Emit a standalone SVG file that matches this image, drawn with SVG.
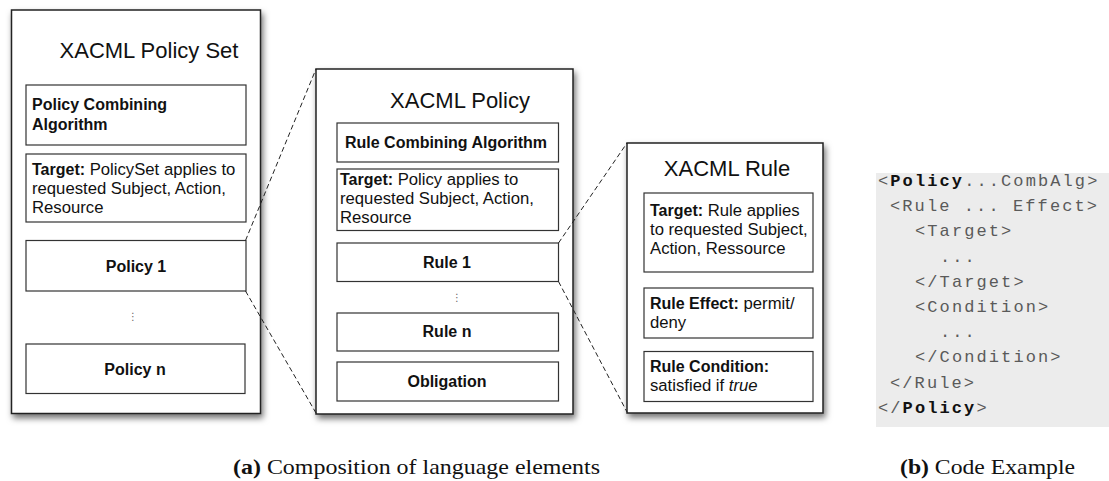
<svg xmlns="http://www.w3.org/2000/svg" width="1109" height="481" viewBox="0 0 1109 481">
<defs>
<filter id="sh" x="-10%" y="-10%" width="125%" height="125%">
<feDropShadow dx="2" dy="4" stdDeviation="3" flood-color="#000" flood-opacity="0.55"/>
</filter>
<style>
.outer{fill:#fff;stroke:#222;stroke-width:1.5;filter:url(#sh)}
.inner{fill:#fff;stroke:#333;stroke-width:1.2}
.title{font-family:"Liberation Sans",Arial,sans-serif;font-size:22px;fill:#111}
.t{font-family:"Liberation Sans",Arial,sans-serif;font-size:16.7px;fill:#111}
.b{font-weight:bold;font-size:16px}
.c{text-anchor:middle}
.dots{font-family:"DejaVu Sans",sans-serif;font-size:10px;fill:#666;text-anchor:middle}
.dash{fill:none;stroke:#222;stroke-width:1;stroke-dasharray:5,3}
.code{font-family:"Liberation Mono","Courier New",monospace;font-size:17px;fill:#5a5a5a;letter-spacing:2.1px}
.cb{font-weight:bold;fill:#111}
.cap{font-family:"Liberation Serif","Times New Roman",serif;font-size:21px;fill:#111}
</style>
</defs>
<rect width="1109" height="481" fill="#fff"/>

<g id="policyset">
<rect class="outer" x="11.5" y="10" width="249" height="403.5"/>
<text class="title" x="149" y="58" text-anchor="middle">XACML Policy Set</text>
<rect class="inner" x="26" y="85" width="220" height="60"/>
<text class="t b" x="32" y="110">Policy Combining</text>
<text class="t b" x="32" y="130">Algorithm</text>
<rect class="inner" x="26" y="154" width="220" height="68"/>
<text class="t" x="32" y="175"><tspan class="b">Target:</tspan> PolicySet applies to</text>
<text class="t" x="32" y="194">requested Subject, Action,</text>
<text class="t" x="32" y="213">Resource</text>
<rect id="policy1" class="inner" x="26" y="240.5" width="220" height="50.5"/>
<text class="t b c" x="136" y="272">Policy 1</text>
<text class="dots" x="133" y="320">⋮</text>
<rect class="inner" x="26" y="344" width="219" height="49.5"/>
<text class="t b c" x="135" y="375">Policy n</text>
</g>

<g id="policy">
<rect class="outer" x="316" y="69" width="257" height="345"/>
<text class="title" x="460" y="108" text-anchor="middle">XACML Policy</text>
<rect class="inner" x="337" y="123" width="221.5" height="39"/>
<text class="t b c" x="446" y="148">Rule Combining Algorithm</text>
<rect class="inner" x="337" y="169" width="221.5" height="61.5"/>
<text class="t" x="340" y="185"><tspan class="b">Target:</tspan> Policy applies to</text>
<text class="t" x="340" y="204">requested Subject, Action,</text>
<text class="t" x="340" y="223">Resource</text>
<rect id="rule1" class="inner" x="337" y="243" width="221.5" height="38.5"/>
<text class="t b c" x="447" y="268">Rule 1</text>
<text class="dots" x="457" y="301">⋮</text>
<rect class="inner" x="337" y="313" width="221.5" height="38"/>
<text class="t b c" x="447" y="337">Rule n</text>
<rect class="inner" x="337" y="362" width="221.5" height="39"/>
<text class="t b c" x="447" y="387">Obligation</text>
</g>

<g id="rule">
<rect class="outer" x="627" y="143" width="196" height="270"/>
<text class="title" x="727" y="176" text-anchor="middle">XACML Rule</text>
<rect class="inner" x="644" y="193" width="169" height="79"/>
<text class="t" x="650" y="216"><tspan class="b">Target:</tspan> Rule applies</text>
<text class="t" x="650" y="235">to requested Subject,</text>
<text class="t" x="650" y="254">Action, Ressource</text>
<rect class="inner" x="644" y="288" width="169" height="50"/>
<text class="t" x="650" y="309"><tspan class="b">Rule Effect:</tspan> permit/</text>
<text class="t" x="650" y="328">deny</text>
<rect class="inner" x="644" y="351.5" width="169" height="50"/>
<text class="t b" x="650" y="372">Rule Condition:</text>
<text class="t" x="650" y="391">satisfied if <tspan font-style="italic">true</tspan></text>
</g>

<g id="connectors">
<line class="dash" x1="245.5" y1="240.5" x2="316" y2="69"/>
<line class="dash" x1="245.5" y1="291" x2="316" y2="413"/>
<line class="dash" x1="558.5" y1="243" x2="627" y2="143"/>
<line class="dash" x1="558.5" y1="281.5" x2="627" y2="412"/>
</g>

<g id="code">
<rect x="876" y="173" width="233" height="254" fill="#ececec"/>
<text class="code" x="878" y="186">&lt;<tspan class="cb">Policy</tspan>...CombAlg&gt;</text>
<text class="code" x="890" y="211">&lt;Rule ... Effect&gt;</text>
<text class="code" x="915" y="236">&lt;Target&gt;</text>
<text class="code" x="940" y="262">...</text>
<text class="code" x="915" y="287">&lt;/Target&gt;</text>
<text class="code" x="915" y="312">&lt;Condition&gt;</text>
<text class="code" x="940" y="337">...</text>
<text class="code" x="915" y="362">&lt;/Condition&gt;</text>
<text class="code" x="890" y="388">&lt;/Rule&gt;</text>
<text class="code" x="878" y="413">&lt;/<tspan class="cb">Policy</tspan>&gt;</text>
</g>

<g id="captions">
<text class="cap" x="233" y="474" textLength="367" lengthAdjust="spacingAndGlyphs"><tspan font-weight="bold">(a)</tspan> Composition of language elements</text>
<text class="cap" x="900" y="474" textLength="175" lengthAdjust="spacingAndGlyphs"><tspan font-weight="bold">(b)</tspan> Code Example</text>
</g>
</svg>
